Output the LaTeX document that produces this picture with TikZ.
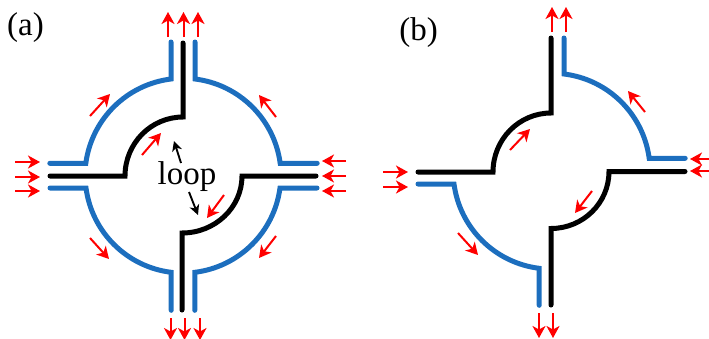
\documentclass[tikz,border=0pt]{standalone}
\usepackage{fontspec}
\setmainfont{Liberation Serif}
\usetikzlibrary{arrows.meta}
\definecolor{wireblue}{RGB}{28,110,190}
\tikzset{
  wire/.style={line width=5pt,line cap=round,miter limit=10},
  bluewire/.style={wire,draw=wireblue},
  blackwire/.style={wire,draw=black},
  flow/.style={draw=red,line width=2pt,-{Stealth[length=12pt,width=13pt,inset=3.5pt]}},
  pointer/.style={draw=black,line width=1.9pt,-{Stealth[length=10pt,width=10pt,inset=3pt]}},
  lab/.style={inner sep=0pt,font=\fontsize{33}{36}\selectfont}
}
\begin{document}
\begin{tikzpicture}[x=1pt,y=-1pt]
\useasboundingbox (0,0) rectangle (709,338);
\clip (0,0) rectangle (709,338);
% panel (a)
\node[lab] (labelA) at (25.5,28) {(a)};
\draw[bluewire] (171,42) -- (171,79) arc[start angle=263,end angle=187.6,radius=98] -- ++(-36,0);
\draw[bluewire] (195,42) -- (195,79) arc[start angle=277,end angle=352.4,radius=98] -- ++(37,0);
\draw[bluewire] (50,188) -- (86,188) arc[start angle=172.4,end angle=97,radius=98] -- ++(0,38);
\draw[bluewire] (317,188) -- (280,188) arc[start angle=7.6,end angle=83,radius=98] -- ++(0,38);
\draw[blackwire] (183,43) -- (183,117) arc[start angle=270,end angle=180,x radius=58,y radius=59] -- ++(-75,0);
\draw[blackwire] (316,176) -- (242,176) arc[start angle=0,end angle=90,x radius=60,y radius=57] -- ++(0,77);
\foreach \x in {168,183.5,198} \draw[flow] (\x,37) -- (\x,12);
\foreach \y in {162,177,191} \draw[flow] (15,\y) -- (40,\y);
\foreach \y in {161,176,191} \draw[flow] (346,\y) -- (322,\y);
\foreach \x in {170.5,184.5,200} \draw[flow] (\x,318) -- (\x,340);
\draw[flow] (90,116) -- (110,94);
\draw[flow] (276,117) -- (259,95);
\draw[flow] (142,155) -- (161,133);
\draw[flow] (224,195) -- (207,218);
\draw[flow] (90,238) -- (109,259);
\draw[flow] (276,236) -- (259,258);
\node[lab] (loop) at (187,177) {loop};
\draw[pointer] (181,163) -- (174,141);
\draw[pointer] (189,192) -- (198,215);
% panel (b)
\node[lab] (labelB) at (418.5,33) {(b)};
\draw[blackwire] (551,38) -- (551,113) arc[start angle=270,end angle=180,x radius=58,y radius=59] -- ++(-75,0);
\draw[bluewire] (564,38) -- (564,74) arc[start angle=277,end angle=352.4,radius=98] -- ++(36,0);
\draw[blackwire] (685,171.5) -- (609,171.5) arc[start angle=0,end angle=90,x radius=58,y radius=57] -- ++(0,76.5);
\draw[bluewire] (418,184) -- (454,184) arc[start angle=172.4,end angle=97,radius=98] -- ++(0,37);
\foreach \x in {552,566} \draw[flow] (\x,32) -- (\x,7);
\foreach \y in {172,187} \draw[flow] (383,\y) -- (408,\y);
\foreach \y in {159,171} \draw[flow] (715,\y) -- (690,\y);
\foreach \x in {539,553} \draw[flow] (\x,313) -- (\x,338);
\draw[flow] (510,150) -- (530,129);
\draw[flow] (645,112) -- (628,91);
\draw[flow] (458,233) -- (478,255);
\draw[flow] (592,191) -- (575,213);
\end{tikzpicture}
\end{document}
